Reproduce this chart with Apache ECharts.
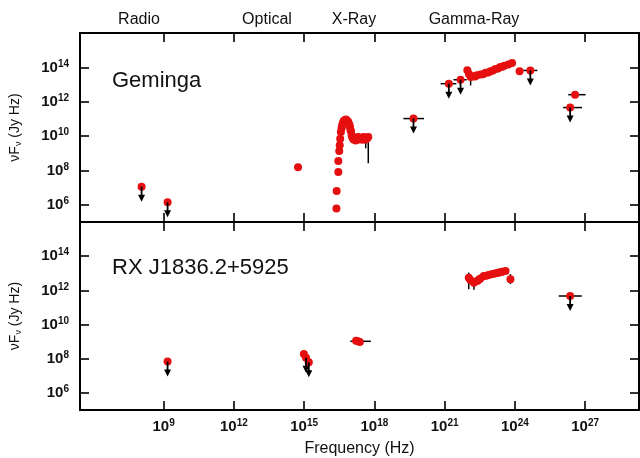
<!DOCTYPE html>
<html><head><meta charset="utf-8">
<script src="https://cdn.jsdelivr.net/npm/echarts@6/dist/echarts.min.js"></script>
<style>html,body{margin:0;padding:0;background:#fff}#c{width:640px;height:458px}</style>
</head><body><div id="c"></div>
<script>
// ---- axis definitions (log10 of Hz / log10 of Jy Hz) ----
const xTickExps = [9, 12, 15, 18, 21, 24, 27];
const yTickExps = [6, 8, 10, 12, 14];
const xRange = [5.43, 29.3];
const yRange = [5, 16];
const bandLabels = ['Radio', 'Optical', 'X-Ray', 'Gamma-Ray'];
const panelNames = ['Geminga', 'RX J1836.2+5925'];

// ---- Geminga (top panel): [log nu, log nuFnu] ----
const gemRadio = [[8.06, 7.05], [9.17, 6.15]];
const gemOptical = [[14.74, 8.19]];
const gemXray = [
  [16.38, 5.78], [16.39, 6.81], [16.46, 7.91], [16.46, 8.55], [16.50, 9.13], [16.52, 9.47],
  [16.54, 9.85], [16.57, 10.24], [16.60, 10.45], [16.62, 10.63], [16.66, 10.78], [16.69, 10.88],
  [16.74, 10.93], [16.79, 10.96], [16.84, 10.90], [16.89, 10.82], [16.93, 10.68], [16.96, 10.53],
  [17.00, 10.28], [17.03, 10.05], [17.07, 9.90], [17.11, 9.80], [17.16, 9.83], [17.21, 9.85],
  [17.26, 9.90], [17.31, 9.95], [17.37, 9.90], [17.43, 9.85], [17.48, 9.90], [17.54, 9.95],
  [17.59, 9.88], [17.64, 9.80], [17.69, 9.88], [17.74, 9.95],
  [16.72, 10.80], [16.80, 10.82], [16.88, 10.70], [16.98, 10.35], [17.05, 9.98], [17.20, 9.75],
  [17.35, 9.80], [17.50, 9.78], [17.62, 9.92]
];
const gemGamma = [
  [19.67, 11.02], [21.18, 13.05], [21.68, 13.28],
  [21.97, 13.83], [22.04, 13.62], [22.11, 13.44], [22.23, 13.48], [22.38, 13.54], [22.53, 13.59],
  [22.75, 13.68], [22.96, 13.77], [23.17, 13.90], [23.38, 14.02], [23.55, 14.10], [23.72, 14.17],
  [23.88, 14.25], [24.20, 13.78], [24.66, 13.82], [26.36, 11.66], [26.57, 12.41],
  [22.30, 13.47], [22.64, 13.60], [22.86, 13.70], [23.06, 13.82], [23.28, 13.94], [23.46, 14.04]
];
const gemUpper = [[8.06, 7.05], [9.17, 6.15], [19.67, 11.02], [21.18, 13.05], [21.68, 13.28], [24.66, 13.82], [26.36, 11.66]];
const gemHBars = [[11.02, 19.24, 20.12], [13.05, 20.83, 21.50], [13.28, 21.38, 21.94], [13.82, 24.36, 24.96], [12.41, 26.28, 27.02], [11.66, 26.06, 26.87]];
const gemVBars = [[17.63, 9.80, 9.29], [17.74, 9.95, 8.42], [22.11, 13.44, 12.95]];

// ---- RX J1836.2+5925 (bottom panel) ----
const rxRadio = [[9.17, 7.84]];
const rxOptical = [[14.99, 8.28], [15.08, 8.05], [15.20, 7.80]];
const rxXray = [[17.22, 9.05], [17.30, 9.02], [17.38, 8.98]];
const rxGamma = [
  [22.03, 12.74], [22.10, 12.60], [22.25, 12.45], [22.39, 12.55], [22.53, 12.70], [22.67, 12.84],
  [22.88, 12.90], [23.10, 12.97], [23.28, 13.03], [23.46, 13.09], [23.60, 13.13], [23.81, 12.65],
  [26.36, 11.67], [22.46, 12.62], [22.78, 12.86], [23.00, 12.94], [23.20, 13.00], [23.38, 13.06]
];
const rxUpper = [[9.17, 7.84], [15.08, 8.05], [15.20, 7.80], [26.36, 11.67]];
const rxHBars = [[9.02, 16.97, 17.85], [11.67, 25.87, 26.86], [12.65, 23.70, 23.95]];
const rxVBars = [[22.03, 13.04, 12.07], [22.25, 12.45, 12.03], [23.81, 12.95, 12.37]];

const RED = '#e60f0f';
const FONT = 'Liberation Sans, Arial, sans-serif';
const supRich = {
  b: { fontSize: 15, fontWeight: 'bold', fontFamily: FONT, color: '#111', lineHeight: 17 },
  s: { fontSize: 10, fontWeight: 'bold', fontFamily: FONT, color: '#111', verticalAlign: 'top', lineHeight: 17 }
};
const powFmt = v => '{b|10}{s|' + Math.round(v) + '}';

function xAx(gridIndex, position, showLabel) {
  return {
    type: 'value', gridIndex, position, min: xRange[0], max: xRange[1],
    axisLine: { show: false }, splitLine: { show: false },
    axisTick: { inside: true, length: 9, customValues: xTickExps, lineStyle: { color: '#000', width: 1.6 } },
    axisLabel: { show: showLabel, customValues: xTickExps, formatter: powFmt, rich: supRich, margin: 8 },
    name: showLabel ? 'Frequency (Hz)' : '', nameLocation: 'middle', nameGap: 31,
    nameTextStyle: { fontSize: 16, fontFamily: FONT, color: '#111' }
  };
}
function yAx(gridIndex, position, showLabel) {
  return {
    type: 'value', gridIndex, position, min: yRange[0], max: yRange[1],
    axisLine: { show: false }, splitLine: { show: false },
    axisTick: { inside: true, length: 9, customValues: yTickExps, lineStyle: { color: '#000', width: 1.6 } },
    axisLabel: { show: showLabel, customValues: yTickExps, formatter: powFmt, rich: supRich, margin: 11 },
    name: showLabel ? '{a|νF}{s|ν}{a| (Jy Hz)}' : '', nameLocation: 'middle', nameGap: 57, nameRotate: 90,
    nameTextStyle: {
      rich: {
        a: { fontSize: 14, fontFamily: FONT, color: '#111', lineHeight: 16 },
        s: { fontSize: 9, fontFamily: FONT, color: '#111', verticalAlign: 'bottom', lineHeight: 16 }
      }
    }
  };
}

function scatter(idx, data, size) {
  return { type: 'scatter', xAxisIndex: idx * 2, yAxisIndex: idx * 2, data, symbol: 'circle',
    symbolSize: size || 8, itemStyle: { color: RED, opacity: 1 }, z: 3, silent: true };
}
function arrows(idx, data) {
  return { type: 'custom', xAxisIndex: idx * 2, yAxisIndex: idx * 2, data, z: 4, silent: true,
    renderItem: (p, api) => {
      const c = api.coord([api.value(0), api.value(1)]);
      const len = 15;
      return { type: 'group', children: [
        { type: 'line', shape: { x1: c[0], y1: c[1], x2: c[0], y2: c[1] + len - 3 }, style: { stroke: '#000', lineWidth: 1.8 } },
        { type: 'polygon', shape: { points: [[c[0] - 3.5, c[1] + len - 7], [c[0] + 3.5, c[1] + len - 7], [c[0], c[1] + len]] }, style: { fill: '#000' } }
      ] };
    } };
}
function hbars(idx, data) {
  return { type: 'custom', xAxisIndex: idx * 2, yAxisIndex: idx * 2, data, z: 2, silent: true,
    renderItem: (p, api) => {
      const a = api.coord([api.value(1), api.value(0)]);
      const b = api.coord([api.value(2), api.value(0)]);
      return { type: 'line', shape: { x1: a[0], y1: a[1], x2: b[0], y2: b[1] }, style: { stroke: '#000', lineWidth: 1.5 } };
    } };
}
function vbars(idx, data) {
  return { type: 'custom', xAxisIndex: idx * 2, yAxisIndex: idx * 2, data, z: 2, silent: true,
    renderItem: (p, api) => {
      const a = api.coord([api.value(0), api.value(1)]);
      const b = api.coord([api.value(0), api.value(2)]);
      return { type: 'line', shape: { x1: a[0], y1: a[1], x2: b[0], y2: b[1] }, style: { stroke: '#000', lineWidth: 1.5 } };
    } };
}

const chart = echarts.init(document.getElementById('c'), null, { renderer: 'canvas' });
const bandX = [139, 267, 354, 474];
chart.setOption({
  animation: false,
  backgroundColor: '#fff',
  grid: [
    { left: 78, top: 33, width: 561, height: 189, show: true, borderColor: '#000', borderWidth: 2, backgroundColor: 'transparent' },
    { left: 78, top: 222, width: 561, height: 189, show: true, borderColor: '#000', borderWidth: 2, backgroundColor: 'transparent' }
  ],
  xAxis: [xAx(0, 'bottom', false), xAx(0, 'top', false), xAx(1, 'bottom', true), xAx(1, 'top', false)],
  yAxis: [yAx(0, 'left', true), yAx(0, 'right', false), yAx(1, 'left', true), yAx(1, 'right', false)],
  graphic: [
    ...bandLabels.map((t, i) => ({ type: 'text', x: bandX[i], y: 20, style: { text: t, fontSize: 16, fontFamily: FONT, fill: '#111', textAlign: 'center', textVerticalAlign: 'middle' } })),
    { type: 'text', x: 112, y: 81, style: { text: panelNames[0], fontSize: 22, fontFamily: FONT, fill: '#111', textVerticalAlign: 'middle' } },
    { type: 'text', x: 112, y: 268, style: { text: panelNames[1], fontSize: 22, fontFamily: FONT, fill: '#111', textVerticalAlign: 'middle' } }
  ],
  series: [
    hbars(0, gemHBars), vbars(0, gemVBars),
    scatter(0, gemRadio), scatter(0, gemOptical), scatter(0, gemXray), scatter(0, gemGamma),
    arrows(0, gemUpper),
    hbars(1, rxHBars), vbars(1, rxVBars),
    scatter(1, rxRadio), scatter(1, rxOptical), scatter(1, rxXray), scatter(1, rxGamma),
    arrows(1, rxUpper)
  ]
});
</script></body></html>
